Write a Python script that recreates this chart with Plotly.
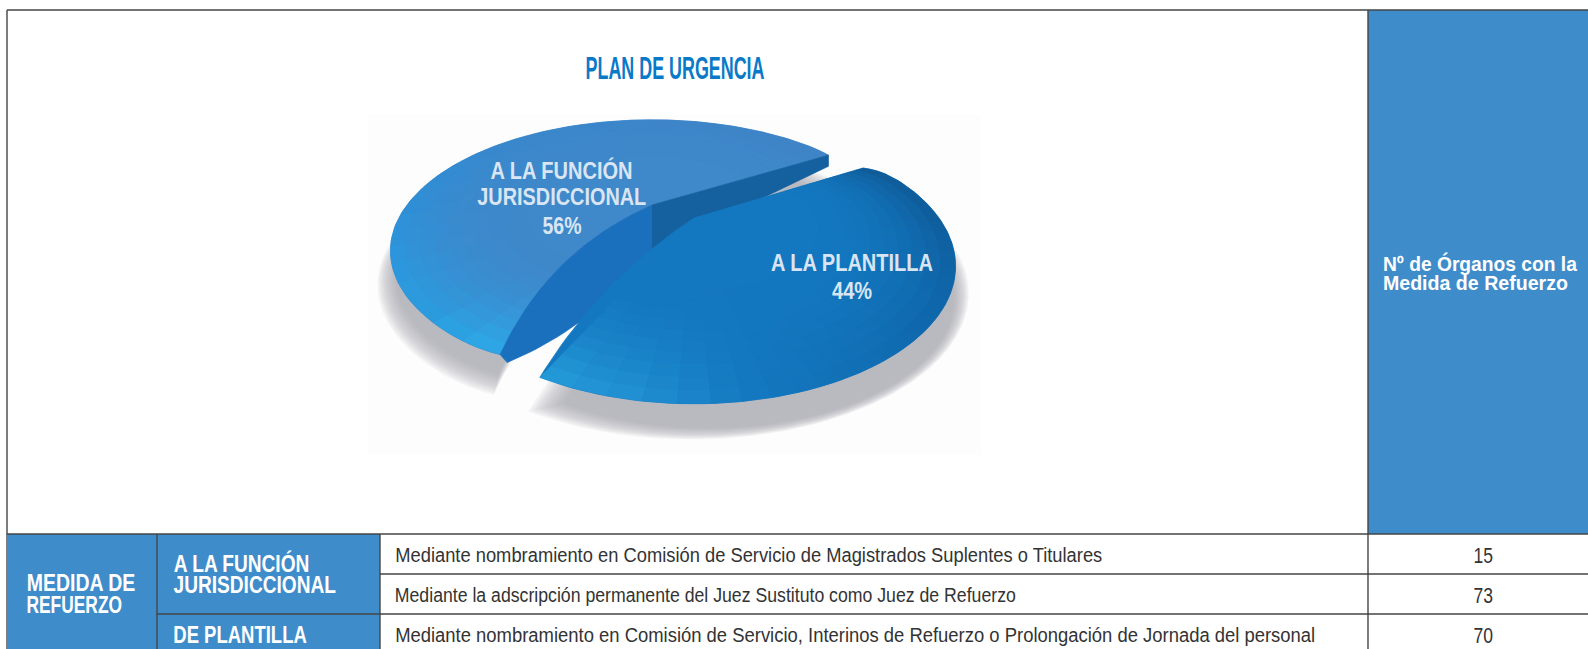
import json
import numpy as np
import plotly.graph_objects as go

# ---------- data ----------
title = "PLAN DE URGENCIA"
slice_lines = [["A LA FUNCIÓN", "JURISDICCIONAL"], ["A LA PLANTILLA"]]
shares = [56, 44]
row_texts = [
    "Mediante nombramiento en Comisión de Servicio de Magistrados Suplentes o Titulares",
    "Mediante la adscripción permanente del Juez Sustituto como Juez de Refuerzo",
    "Mediante nombramiento en Comisión de Servicio, Interinos de Refuerzo o Prolongación de Jornada del personal",
]
row_values = [15, 73, 70]
header_lines = ["Nº de Órganos con la", "Medida de Refuerzo"]
group_lines = ["MEDIDA DE", "REFUERZO"]
sub_lines = ["A LA FUNCIÓN", "JURISDICCIONAL"]
sub2_label = "DE PLANTILLA"

# ---------- style / geometry ----------
W, H = 1588, 649
BLUE = "#3f8ccb"
SANS = "Liberation Sans, Arial, sans-serif"
Rx, Ry, K = 245.0, 115.0, -0.35
A, PHI, TH0 = np.radians(-16.2), np.radians(42.25), np.radians(-36.95)
APEX_L, APEX_R = np.array([652.0, 205.0]), np.array([694.0, 218.0])
BULGE_L, BULGE_R = np.array([-28.0, -29.0]), np.array([-18.0, -17.0])
SY_R = 1.05
TAPER_L, TAPER_R = (0.01, 0.01), (0.06, 0.0)   # rounding of each slice's two tips


def warp(t):
    return t + A * np.sin(2 * (t - PHI))


def proj(r, t, apex, sy=1.0):
    w = warp(t)
    d = 1 + K * r * np.sin(w)
    return apex[0] + Rx * r * np.cos(w) / d, apex[1] + sy * Ry * r * np.sin(w) / d


def radius(t, angles, taper):
    d0 = np.abs(np.degrees(t - angles[0]))
    d1 = np.abs(np.degrees(t - angles[-1]))
    return 1 - taper[0] * np.exp(-d0 / 2.5) - taper[1] * np.exp(-d1 / 2.5)


def hexrgb(c):
    return np.array([int(c[i:i + 2], 16) for i in (1, 3, 5)], float)


def mix(a, b, f):
    c = hexrgb(a) * (1 - f) + hexrgb(b) * f
    return "rgb(%d,%d,%d)" % tuple(c)


def rim_colour(stops, deg):
    xs = [s[0] for s in stops]
    cols = np.array([hexrgb(s[1]) for s in stops])
    return "#%02x%02x%02x" % tuple(int(np.interp(deg, xs, cols[:, i])) for i in range(3))


def quad_curve(p0, ctrl, p1, n=24):
    f = np.linspace(0, 1, n)[:, None]
    return (1 - f) ** 2 * p0 + 2 * f * (1 - f) * ctrl + f ** 2 * p1


traces = []


def poly(xy, color, opacity=1.0, lw=0.7):
    xy = np.asarray(xy)
    traces.append(go.Scatter(
        x=xy[:, 0], y=xy[:, 1], mode="lines", fill="toself", fillcolor=color,
        opacity=opacity, line=dict(color=color, width=lw), hoverinfo="skip", showlegend=False))


span_l = np.radians(shares[0] * 3.6)
span_r = np.radians(shares[1] * 3.6)
ang_l = TH0 - np.linspace(0, 1, 200) * span_l
ang_r = TH0 + np.linspace(0, 1, 160) * span_r


def outline(apex, angles, bulge, taper, sy=1.0):
    ax, ay = proj(radius(angles, angles, taper), angles, apex, sy)
    arc = np.column_stack([ax, ay])
    end = arc[-1]
    ctrl = (apex + end) / 2 + bulge
    return np.vstack([[apex], arc, quad_curve(end, ctrl, apex)])


poly_l = outline(APEX_L, ang_l, BULGE_L, TAPER_L)
poly_r = outline(APEX_R, ang_r, BULGE_R, TAPER_R, SY_R)

# shadows (soft stacked layers)
for scale in np.linspace(1.06, 0.94, 13):
    for pts, off in ((poly_l, (-4, 30)), (poly_r, (6, 30))):
        c = pts.mean(axis=0)
        poly((pts - c) * scale + c + np.array(off), "#a6aaae", opacity=0.1, lw=0)

BASE_L, BASE_R = "#3f88ca", "#1478c0"
stops_l = [(-250, "#2fb2ee"), (-225, "#2a9fe2"), (-180, "#2f90d8"), (-135, "#3a88cd"),
           (-90, "#3d86c9"), (-30, "#3f84c6")]
stops_r = [(-40, "#115a94"), (0, "#0f5c9a"), (45, "#1068ac"), (80, "#1478c0"),
           (100, "#2293d4"), (125, "#2aa6e2")]


def shaded(apex, angles, stops, base, taper, sy=1.0, rmin=0.5, nr=10, na=40, pw=2.0):
    edges_r = np.linspace(rmin, 1, nr + 1)
    edges_a = np.linspace(angles[0], angles[-1], na + 1)
    for j in range(nr):
        r0, r1 = edges_r[j], edges_r[j + 1]
        f = ((r0 + r1) / 2 - rmin) / (1 - rmin)
        for i in range(na):
            a = np.linspace(edges_a[i], edges_a[i + 1], 6)
            deg = np.degrees(warp((edges_a[i] + edges_a[i + 1]) / 2))
            col = mix(base, rim_colour(stops, deg), f ** pw)
            scale = radius(a, angles, taper)
            xo, yo = proj(r1 * scale, a, apex, sy)
            xi, yi = proj((r0 * scale)[::-1], a[::-1], apex, sy)
            poly(np.column_stack([np.r_[xo, xi], np.r_[yo, yi]]), col, lw=0.5)


# left slice surface
poly(poly_l, BASE_L)
shaded(APEX_L, ang_l, stops_l, BASE_L, TAPER_L)

# left slice cut walls
tip1 = np.array(proj(1.0 - TAPER_L[0], ang_l[0], APEX_L))
tip2 = np.array(proj(1.0 - TAPER_L[1], ang_l[-1], APEX_L))
cut2 = quad_curve(APEX_L, (APEX_L + tip2) / 2 + BULGE_L, tip2)
low_a, low_b = APEX_L + np.array([0.0, 46.0]), tip2 + np.array([7.0, 8.0])
lower = quad_curve(low_b, (low_a + low_b) / 2 + np.array([14.0, 20.0]), low_a)
poly(np.vstack([cut2, lower]), "#1a70bd")
f = np.linspace(0, 1, 20)
cut1 = APEX_L[None, :] * (1 - f[:, None]) + tip1[None, :] * f[:, None]
drop1 = np.linspace(46.0, 11.0, len(f))
poly(np.vstack([cut1, (cut1 + np.column_stack([0 * f, drop1]))[::-1]]), "#15609f")

# right slice surface
poly(poly_r, BASE_R)
shaded(APEX_R, ang_r, stops_r, BASE_R, TAPER_R, SY_R)

# ---------- figure ----------
fig = go.Figure(traces)

line_dark = "#454545"
shapes = [
    dict(type="rect", x0=368, x1=981, y0=115, y1=455, fillcolor="#fdfdfd", line_width=0, layer="below"),
    dict(type="rect", x0=8, x1=380, y0=534, y1=H + 2, fillcolor=BLUE, line_width=0, layer="below"),
    dict(type="rect", x0=1368, x1=W + 2, y0=10, y1=534, fillcolor=BLUE, line_width=0, layer="below"),
]
for x0, y0, x1, y1 in [(7, 10, W, 10), (7, 10, 7, H), (7, 534, W, 534), (157, 534, 157, H), (380, 534, 380, H),
                       (1368, 10, 1368, H), (157, 614, W, 614), (380, 574, W, 574)]:
    shapes.append(dict(type="line", x0=x0, x1=x1, y0=y0, y1=y1, line=dict(color=line_dark, width=1.4), layer="above"))

ann, widths = [], []


def label(x0, x1, y, text, size, color, weight="normal"):
    """A line of text fitted between x0 and x1 (the reference's type is condensed)."""
    ann.append(dict(x=(x0 + x1) / 2, y=y, xref="x", yref="y", text=text, showarrow=False,
                    xanchor="center", yanchor="middle", align="center",
                    font=dict(size=size, color=color, family=SANS, weight=weight)))
    widths.append(x1 - x0)


label(585, 764, 68, title, 32, "#0a7ac8", "bold")
pie_col = "#d9e5f2"
label(490, 632, 170, slice_lines[0][0], 23, pie_col, "bold")
label(477, 646, 197, slice_lines[0][1], 23, pie_col, "bold")
label(542, 581, 226, f"{shares[0]}%", 23, pie_col, "bold")
label(771, 933, 263, slice_lines[1][0], 23, pie_col, "bold")
label(832, 872, 291, f"{shares[1]}%", 23, pie_col, "bold")

label(1383, 1577, 263, header_lines[0], 20, "white", "bold")
label(1383, 1568, 283, header_lines[1], 20, "white", "bold")
label(26.5, 135, 583, group_lines[0], 23, "white", "bold")
label(26.5, 122, 605, group_lines[1], 23, "white", "bold")
label(173.5, 309, 563, sub_lines[0], 23, "white", "bold")
label(173.5, 336, 585, sub_lines[1], 23, "white", "bold")
label(173.5, 307, 635, sub2_label, 23, "white", "bold")
for y, t, v, end in zip((555, 595, 635), row_texts, row_values, (1102, 1016, 1315)):
    label(395, end, y, t, 20, "#333333")
    label(1473.5, 1493, y, str(v), 22, "#333333")

fig.update_layout(
    width=W, height=H, margin=dict(l=0, r=0, t=0, b=0), paper_bgcolor="white", plot_bgcolor="white",
    showlegend=False, shapes=shapes, annotations=ann,
    xaxis=dict(range=[0, W], visible=False, fixedrange=True),
    yaxis=dict(range=[H, 0], visible=False, fixedrange=True),
)
post = """
document.body.style.margin = '0';
var ws = %s;
document.querySelectorAll('.annotation-text').forEach(function (t, i) {
  if (ws[i]) { t.setAttribute('textLength', ws[i]); t.setAttribute('lengthAdjust', 'spacingAndGlyphs'); }
});
""" % json.dumps(widths)
fig.write_html("out.html", config={"displayModeBar": False}, post_script=post)
